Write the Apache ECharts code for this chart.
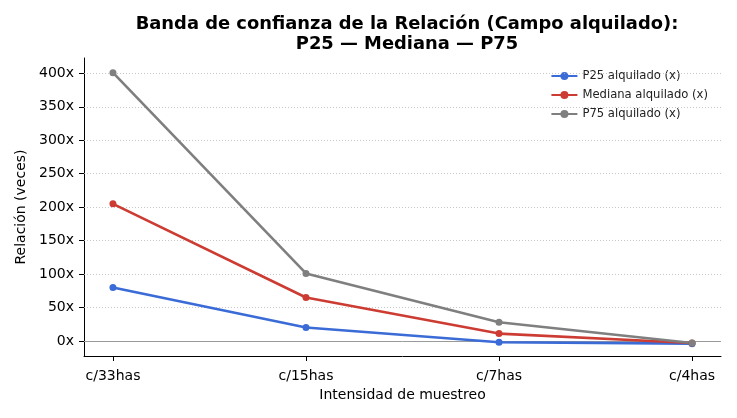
<!DOCTYPE html>
<html>
<head>
<meta charset="utf-8">
<script src="https://cdn.jsdelivr.net/npm/echarts@6/dist/echarts.min.js"></script>
<style>
  html, body { margin: 0; padding: 0; background: #fff; }
  #main { width: 737px; height: 418px; }
</style>
</head>
<body>
<div id="main"></div>
<script>
// datos
var categorias = ['c/33has', 'c/15has', 'c/7has', 'c/4has'];
var p25 = [80, 20, -2, -4];
var mediana = [205, 65, 11, -3];
var p75 = [401, 101, 28, -3];
var yTicks = [0, 50, 100, 150, 200, 250, 300, 350, 400];

var font = 'DejaVu Sans';

function pares(vals) {
    return vals.map(function (v, i) { return [i, v]; });
}

function serie(nombre, vals, color, extra) {
    var s = {
        name: nombre,
        type: 'line',
        data: pares(vals),
        symbol: 'circle',
        symbolSize: 7,
        lineStyle: { color: color, width: 2.6 },
        itemStyle: { color: color },
        emphasis: { disabled: true },
        z: 5
    };
    if (extra) s.markLine = extra;
    return s;
}

// líneas de grilla y línea de cero
var grilla = {
    silent: true,
    symbol: 'none',
    label: { show: false },
    animation: false,
    data: yTicks.filter(function (t) { return t !== 0; }).map(function (t) {
        return { yAxis: t, lineStyle: { color: '#b8b8b8', type: [1, 2], width: 0.8 } };
    }).concat([{ yAxis: 0, lineStyle: { color: '#9a9a9a', type: 'solid', width: 1 } }])
};

var myChart = echarts.init(document.getElementById('main'), null, { renderer: 'canvas' });

var option = {
    animation: false,
    backgroundColor: '#fff',
    textStyle: { fontFamily: font },
    title: {
        text: 'Banda de confianza de la Relación (Campo alquilado):\nP25 — Mediana — P75',
        left: 402,
        top: 9,
        textAlign: 'center',
        textStyle: { fontFamily: font, fontSize: 17.9, fontWeight: 'bold', color: '#000', lineHeight: 20 }
    },
    legend: {
        orient: 'vertical',
        right: 24,
        top: 65,
        itemWidth: 26,
        itemHeight: 10,
        itemGap: 7,
        textStyle: { fontFamily: font, fontSize: 11.6, color: '#222' },
        data: ['P25 alquilado (x)', 'Mediana alquilado (x)', 'P75 alquilado (x)']
    },
    grid: { left: 84, right: 16, top: 58, bottom: 62, containLabel: false },
    xAxis: {
        type: 'value',
        min: -0.15,
        max: 3.15,
        name: 'Intensidad de muestreo',
        nameLocation: 'middle',
        nameGap: 31,
        nameTextStyle: { fontFamily: font, fontSize: 14, color: '#000' },
        axisLine: { show: true, onZero: false, lineStyle: { color: '#000', width: 1 } },
        axisTick: { show: true, length: 5, customValues: [0, 1, 2, 3], lineStyle: { color: '#000' } },
        axisLabel: {
            customValues: [0, 1, 2, 3],
            margin: 13,
            fontFamily: font, fontSize: 14, color: '#000',
            formatter: function (v) { return categorias[Math.round(v)]; }
        },
        splitLine: { show: false }
    },
    yAxis: {
        type: 'value',
        min: -22.5,
        max: 423,
        name: 'Relación (veces)',
        nameLocation: 'middle',
        nameGap: 54,
        nameRotate: 90,
        nameTextStyle: { fontFamily: font, fontSize: 14, color: '#000' },
        axisLine: { show: true, onZero: false, lineStyle: { color: '#000', width: 1 } },
        axisTick: { show: true, length: 5, customValues: yTicks, lineStyle: { color: '#000' } },
        axisLabel: {
            customValues: yTicks,
            margin: 10,
            fontFamily: font, fontSize: 14, color: '#000',
            formatter: function (v) { return v + 'x'; }
        },
        splitLine: { show: false }
    },
    series: [
        serie('P25 alquilado (x)', p25, '#3a6bd6', grilla),
        serie('Mediana alquilado (x)', mediana, '#cc3c33'),
        serie('P75 alquilado (x)', p75, '#7f7f7f')
    ]
};

myChart.setOption(option);
</script>
</body>
</html>
